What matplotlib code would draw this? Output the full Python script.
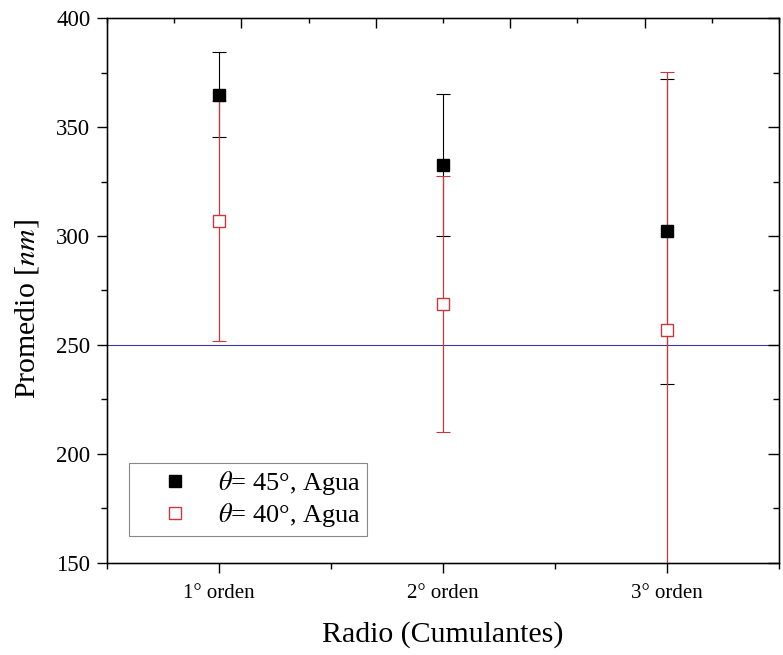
import numpy as np
import matplotlib
matplotlib.use("Agg")
import matplotlib.pyplot as plt
from matplotlib.ticker import MultipleLocator

plt.rcParams['font.family'] = ['Liberation Serif', 'DejaVu Serif']
plt.rcParams['mathtext.fontset'] = 'stix'

# datos
categorias = ["1° orden", "2° orden", "3° orden"]
prom_45 = [364.8, 332.6, 302.2]
err_45 = [19.6, 32.5, 70.0]
prom_40 = [306.9, 268.8, 256.9]
err_40 = [55.0, 58.5, 118.5]
referencia = 250

rojo = '#c8383c'
x = np.arange(1, len(categorias) + 1)

fig = plt.figure(figsize=(7.83, 6.55), dpi=100)
ax = fig.add_axes([0.1367, 0.1405, 0.8582, 0.832])

ax.axhline(referencia, color='#3a3a96', lw=0.8, zorder=1)

# barras de error
ax.errorbar(x, prom_45, yerr=err_45, fmt='none', ecolor='black',
            elinewidth=0.8, capsize=5, capthick=0.8, zorder=2)
ax.errorbar(x, prom_40, yerr=err_40, fmt='none', ecolor=rojo,
            elinewidth=0.9, capsize=5, capthick=0.8, zorder=3)

# marcadores
ax.plot(x, prom_45, 's', color='black', markersize=8.5, ls='none',
        zorder=4, label=r'$\theta$= 45°, Agua')
ax.plot(x, prom_40, 's', mfc='white', mec=rojo, mew=1.0, markersize=8,
        ls='none', zorder=5, label=r'$\theta$= 40°, Agua')

ax.set_xlim(0.5, 3.5)
ax.set_ylim(150, 400)
ax.set_xticks(x)
ax.set_xticklabels(categorias, fontsize=15)
ax.xaxis.set_minor_locator(MultipleLocator(0.5))
ax.yaxis.set_major_locator(MultipleLocator(50))
ax.yaxis.set_minor_locator(MultipleLocator(25))
ax.tick_params(axis='y', labelsize=16.5, pad=5)
ax.tick_params(which='major', direction='out', length=7, width=1.0)
ax.tick_params(which='minor', direction='out', length=4.5, width=1.0)
ax.tick_params(axis='x', which='major', pad=8)

ax.set_xlabel('Radio (Cumulantes)', fontsize=21.5, labelpad=13)
ax.set_ylabel(r'Promedio [$nm$]', fontsize=21.5)
ax.yaxis.set_label_coords(-0.098, 0.465)

for s in ax.spines.values():
    s.set_linewidth(1.0)

# eje derecho y superior con marcas hacia dentro
axr = ax.twinx()
axr.set_ylim(150, 400)
axr.yaxis.set_major_locator(MultipleLocator(50))
axr.yaxis.set_minor_locator(MultipleLocator(25))
axr.tick_params(which='major', direction='in', length=8, width=1.0, labelright=False)
axr.tick_params(which='minor', direction='in', length=4, width=1.0)

axt = ax.twiny()
axt.set_xlim(0, 5)
axt.set_xticks([1, 2, 3, 4])
axt.xaxis.set_minor_locator(MultipleLocator(0.5))
axt.tick_params(which='major', direction='in', length=7, width=1.0, labeltop=False)
axt.tick_params(which='minor', direction='in', length=3.5, width=1.0)

leg = ax.legend(loc='lower left', bbox_to_anchor=(0.033, 0.05),
                borderaxespad=0, fontsize=19, fancybox=False,
                edgecolor='#888888', framealpha=1, handletextpad=0.1,
                borderpad=0.25, labelspacing=0.15, handlelength=3.0)
leg.get_frame().set_linewidth(0.8)
leg.set_zorder(10)

fig.savefig('out.png', dpi=100)
